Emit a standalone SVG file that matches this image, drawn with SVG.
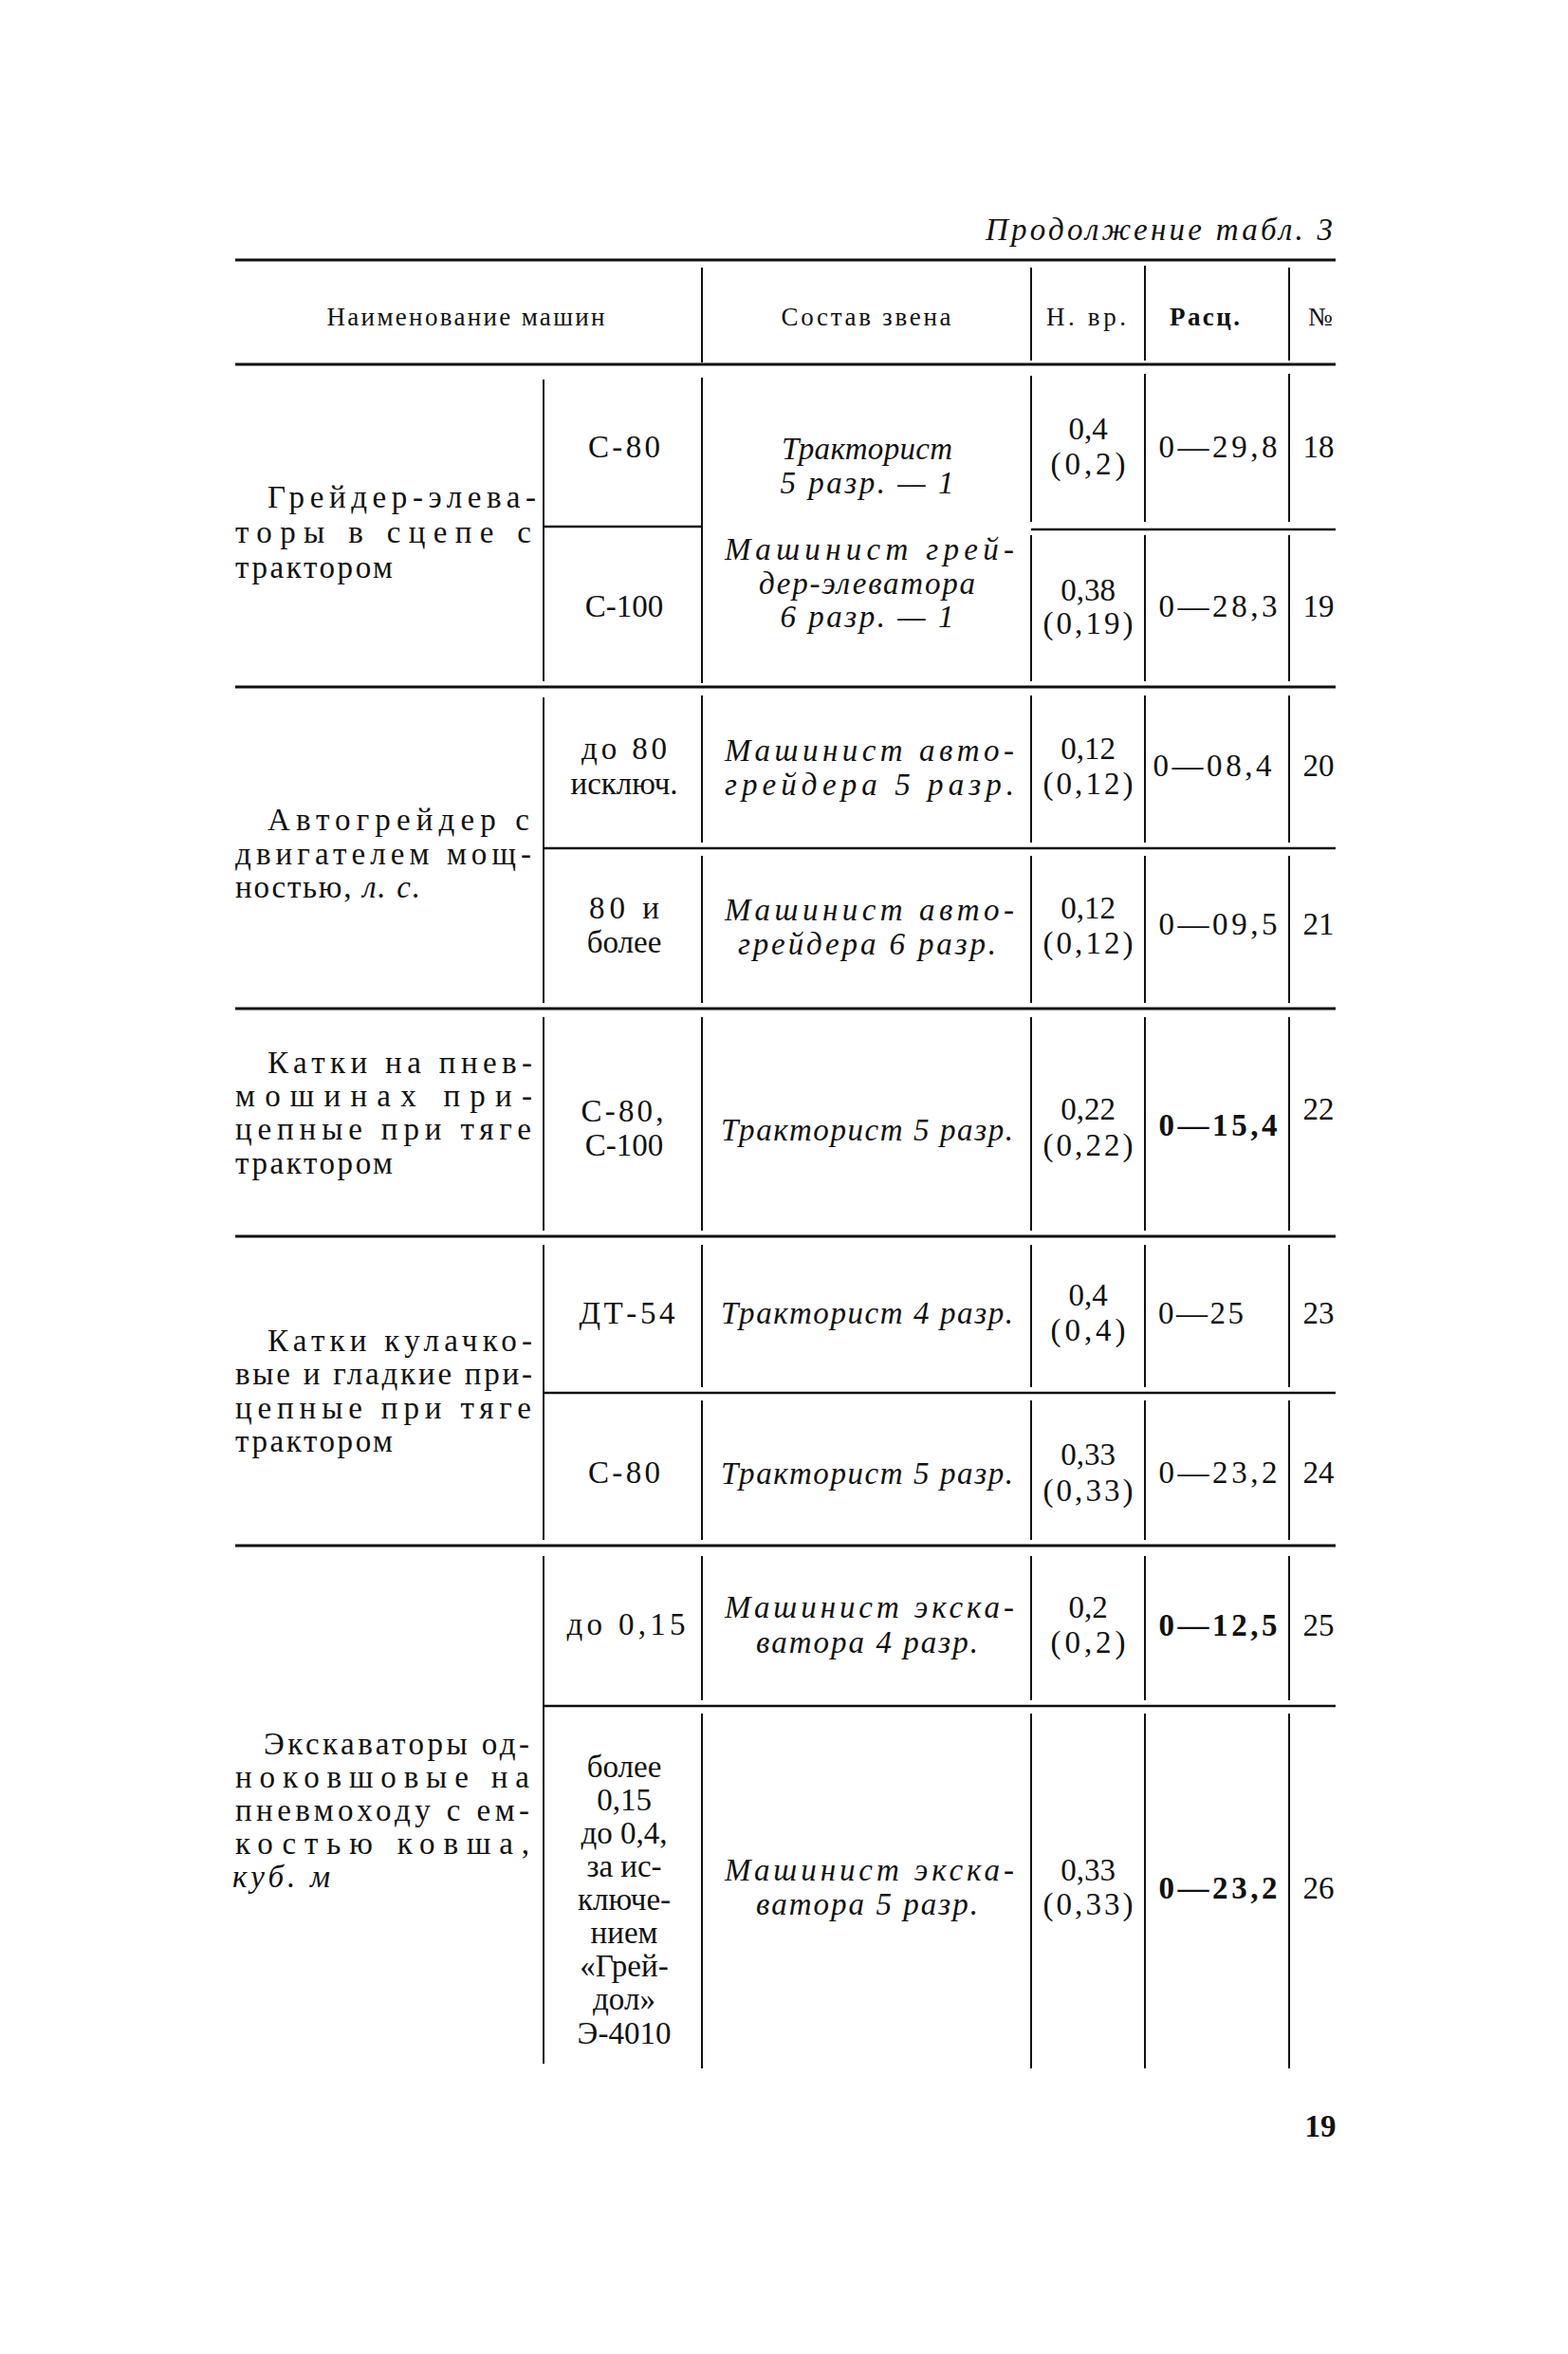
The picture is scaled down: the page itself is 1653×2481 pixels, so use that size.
<svg xmlns="http://www.w3.org/2000/svg" width="1653" height="2481" viewBox="0 0 1653 2481">
<style>
text{font-family:"Liberation Serif","DejaVu Serif",serif;font-size:33px;fill:#111}
.h{font-size:27px}
.i{font-style:italic;font-size:33px}
.b{font-weight:bold}
.m{text-anchor:middle}
.r{text-anchor:end}
.hr{stroke:#111;stroke-width:3.2}
.sr{stroke:#111;stroke-width:2.6}
.v{stroke:#111;stroke-width:2}
</style>
<rect width="1653" height="2481" fill="#fff"/>
<text class="i r" x="1405" y="253" font-size="36" textLength="366">Продолжение табл. 3</text>

<g id="connectors">
<line class="hr" x1="248" y1="274" x2="1408" y2="274"/>
<line class="hr" x1="248" y1="384" x2="1408" y2="384"/>
<line class="hr" x1="248" y1="724" x2="1408" y2="724"/>
<line class="hr" x1="248" y1="1063" x2="1408" y2="1063"/>
<line class="hr" x1="248" y1="1303" x2="1408" y2="1303"/>
<line class="hr" x1="248" y1="1629" x2="1408" y2="1629"/>
<line class="sr" x1="573" y1="555" x2="740" y2="555"/>
<line class="sr" x1="1087" y1="558" x2="1408" y2="558"/>
<line class="sr" x1="573" y1="894" x2="1408" y2="894"/>
<line class="sr" x1="573" y1="1468" x2="1408" y2="1468"/>
<line class="sr" x1="573" y1="1798" x2="1408" y2="1798"/>
<line class="v" x1="740" y1="282" x2="740" y2="382"/>
<line class="v" x1="1087" y1="282" x2="1087" y2="380"/>
<line class="v" x1="1207" y1="280" x2="1207" y2="380"/>
<line class="v" x1="1359" y1="282" x2="1359" y2="380"/>
<line class="v" x1="573" y1="400" x2="573" y2="718"/>
<line class="v" x1="740" y1="398" x2="740" y2="720"/>
<line class="v" x1="1087" y1="396" x2="1087" y2="550"/>
<line class="v" x1="1087" y1="564" x2="1087" y2="718"/>
<line class="v" x1="1207" y1="394" x2="1207" y2="550"/>
<line class="v" x1="1207" y1="564" x2="1207" y2="718"/>
<line class="v" x1="1359" y1="394" x2="1359" y2="550"/>
<line class="v" x1="1359" y1="564" x2="1359" y2="718"/>
<line class="v" x1="573" y1="735" x2="573" y2="1057"/>
<line class="v" x1="740" y1="733" x2="740" y2="888"/>
<line class="v" x1="740" y1="902" x2="740" y2="1057"/>
<line class="v" x1="1087" y1="733" x2="1087" y2="888"/>
<line class="v" x1="1087" y1="902" x2="1087" y2="1057"/>
<line class="v" x1="1207" y1="733" x2="1207" y2="888"/>
<line class="v" x1="1207" y1="902" x2="1207" y2="1057"/>
<line class="v" x1="1359" y1="733" x2="1359" y2="888"/>
<line class="v" x1="1359" y1="902" x2="1359" y2="1057"/>
<line class="v" x1="573" y1="1072" x2="573" y2="1297"/>
<line class="v" x1="740" y1="1072" x2="740" y2="1297"/>
<line class="v" x1="1087" y1="1072" x2="1087" y2="1297"/>
<line class="v" x1="1207" y1="1072" x2="1207" y2="1297"/>
<line class="v" x1="1359" y1="1072" x2="1359" y2="1297"/>
<line class="v" x1="573" y1="1312" x2="573" y2="1623"/>
<line class="v" x1="740" y1="1312" x2="740" y2="1462"/>
<line class="v" x1="740" y1="1476" x2="740" y2="1623"/>
<line class="v" x1="1087" y1="1312" x2="1087" y2="1462"/>
<line class="v" x1="1087" y1="1476" x2="1087" y2="1623"/>
<line class="v" x1="1207" y1="1312" x2="1207" y2="1462"/>
<line class="v" x1="1207" y1="1476" x2="1207" y2="1623"/>
<line class="v" x1="1359" y1="1312" x2="1359" y2="1462"/>
<line class="v" x1="1359" y1="1476" x2="1359" y2="1623"/>
<line class="v" x1="573" y1="1640" x2="573" y2="2175"/>
<line class="v" x1="740" y1="1640" x2="740" y2="1792"/>
<line class="v" x1="740" y1="1806" x2="740" y2="2180"/>
<line class="v" x1="1087" y1="1640" x2="1087" y2="1792"/>
<line class="v" x1="1087" y1="1806" x2="1087" y2="2180"/>
<line class="v" x1="1207" y1="1640" x2="1207" y2="1792"/>
<line class="v" x1="1207" y1="1806" x2="1207" y2="2180"/>
<line class="v" x1="1359" y1="1640" x2="1359" y2="1792"/>
<line class="v" x1="1359" y1="1806" x2="1359" y2="2180"/>
</g>

<g id="header">
<text class="h m" x="491" y="343" textLength="293">Наименование машин</text>
<text class="h m" x="913" y="343" textLength="179">Состав звена</text>
<text class="h m" x="1145" y="343" textLength="84">Н. вр.</text>
<text class="h m b" x="1270" y="343" textLength="74">Расц.</text>
<text class="h m" x="1392" y="343">№</text>
</g>

<g id="group-grader-elevator">
<text x="282" y="535" textLength="283">Грейдер-элева-</text>
<text x="248" y="572" textLength="312">торы в сцепе с</text>
<text x="248" y="609" textLength="166">трактором</text>
</g>
<g id="row-18">
<text class="m" x="658" y="482" textLength="76">С-80</text>
<text class="m i" x="914" y="484" textLength="180">Тракторист</text>
<text class="m i" x="914" y="520" textLength="183">5 разр. — 1</text>
<text class="m" x="1147" y="463">0,4</text>
<text class="m" x="1147" y="500" textLength="79">(0,2)</text>
<text class="m" x="1284" y="482" textLength="125">0—29,8</text>
<text class="m" x="1390" y="482">18</text>
</g>
<g id="row-19">
<text class="m" x="658" y="650">С-100</text>
<text class="i" x="764" y="590" textLength="305">Машинист грей-</text>
<text class="m i" x="914" y="626" textLength="228">дер-элеватора</text>
<text class="m i" x="914" y="661" textLength="183">6 разр. — 1</text>
<text class="m" x="1147" y="633">0,38</text>
<text class="m" x="1147" y="668" textLength="95">(0,19)</text>
<text class="m" x="1284" y="650" textLength="125">0—28,3</text>
<text class="m" x="1390" y="650">19</text>
</g>

<g id="group-autograder">
<text x="282" y="875" textLength="276">Автогрейдер с</text>
<text x="248" y="911" textLength="312">двигателем мощ-</text>
<text x="248" y="946" textLength="195">ностью, <tspan class="i">л. с.</tspan></text>
</g>
<g id="row-20">
<text class="m" x="658" y="800" textLength="90">до 80</text>
<text class="m" x="658" y="837">исключ.</text>
<text class="i" x="764" y="802" textLength="305">Машинист авто-</text>
<text class="i" x="764" y="838" textLength="305">грейдера 5 разр.</text>
<text class="m" x="1147" y="800">0,12</text>
<text class="m" x="1147" y="837" textLength="95">(0,12)</text>
<text class="m" x="1278" y="818" textLength="125">0—08,4</text>
<text class="m" x="1390" y="818">20</text>
</g>
<g id="row-21">
<text class="m" x="658" y="968" textLength="74">80 и</text>
<text class="m" x="658" y="1004">более</text>
<text class="i" x="764" y="970" textLength="305">Машинист авто-</text>
<text class="m i" x="914" y="1006" textLength="272">грейдера 6 разр.</text>
<text class="m" x="1147" y="968">0,12</text>
<text class="m" x="1147" y="1005" textLength="95">(0,12)</text>
<text class="m" x="1284" y="985" textLength="125">0—09,5</text>
<text class="m" x="1390" y="985">21</text>
</g>

<g id="row-22">
<text x="282" y="1131" textLength="279">Катки на пнев-</text>
<text x="248" y="1166" textLength="313">мошинах при-</text>
<text x="248" y="1201" textLength="312">цепные при тяге</text>
<text x="248" y="1237" textLength="166">трактором</text>
<text class="m" x="656" y="1182" textLength="87">С-80,</text>
<text class="m" x="658" y="1218">С-100</text>
<text class="m i" x="914" y="1202" textLength="308">Тракторист 5 разр.</text>
<text class="m" x="1147" y="1180">0,22</text>
<text class="m" x="1147" y="1218" textLength="95">(0,22)</text>
<text class="m b" x="1284" y="1197" textLength="125">0—15,4</text>
<text class="m" x="1390" y="1180">22</text>
</g>

<g id="group-rollers">
<text x="282" y="1424" textLength="279">Катки кулачко-</text>
<text x="248" y="1459" textLength="313">вые и гладкие при-</text>
<text x="248" y="1495" textLength="312">цепные при тяге</text>
<text x="248" y="1530" textLength="166">трактором</text>
</g>
<g id="row-23">
<text class="m" x="661" y="1395" textLength="101">ДТ-54</text>
<text class="m i" x="914" y="1395" textLength="308">Тракторист 4 разр.</text>
<text class="m" x="1147" y="1376">0,4</text>
<text class="m" x="1147" y="1413" textLength="79">(0,4)</text>
<text x="1221" y="1395" textLength="90">0—25</text>
<text class="m" x="1390" y="1395">23</text>
</g>
<g id="row-24">
<text class="m" x="658" y="1563" textLength="76">С-80</text>
<text class="m i" x="914" y="1564" textLength="308">Тракторист 5 разр.</text>
<text class="m" x="1147" y="1544">0,33</text>
<text class="m" x="1147" y="1582" textLength="95">(0,33)</text>
<text class="m" x="1284" y="1563" textLength="125">0—23,2</text>
<text class="m" x="1390" y="1563">24</text>
</g>

<g id="group-excavators">
<text x="278" y="1849" textLength="280">Экскаваторы од-</text>
<text x="248" y="1884" textLength="310">ноковшовые на</text>
<text x="248" y="1919" textLength="310">пневмоходу с ем-</text>
<text x="248" y="1954" textLength="310">костью ковша,</text>
<text class="i" x="245" y="1989" textLength="103">куб. м</text>
</g>
<g id="row-25">
<text class="m" x="660" y="1723" textLength="125">до 0,15</text>
<text class="i" x="764" y="1705" textLength="305">Машинист экска-</text>
<text class="m i" x="914" y="1742" textLength="234">ватора 4 разр.</text>
<text class="m" x="1147" y="1705">0,2</text>
<text class="m" x="1147" y="1742" textLength="79">(0,2)</text>
<text class="m b" x="1284" y="1724" textLength="125">0—12,5</text>
<text class="m" x="1390" y="1724">25</text>
</g>
<g id="row-26">
<text class="m" x="658" y="1873">более</text>
<text class="m" x="658" y="1908">0,15</text>
<text class="m" x="658" y="1943">до 0,4,</text>
<text class="m" x="658" y="1978">за ис-</text>
<text class="m" x="658" y="2013">ключе-</text>
<text class="m" x="658" y="2048">нием</text>
<text class="m" x="658" y="2083">«Грей-</text>
<text class="m" x="658" y="2118">дол»</text>
<text class="m" x="658" y="2154">Э-4010</text>
<text class="i" x="764" y="1982" textLength="305">Машинист экска-</text>
<text class="m i" x="914" y="2018" textLength="234">ватора 5 разр.</text>
<text class="m" x="1147" y="1982">0,33</text>
<text class="m" x="1147" y="2018" textLength="95">(0,33)</text>
<text class="m b" x="1284" y="2001" textLength="125">0—23,2</text>
<text class="m" x="1390" y="2001">26</text>
</g>

<text class="m b" x="1392" y="2252" font-size="34">19</text>
</svg>
